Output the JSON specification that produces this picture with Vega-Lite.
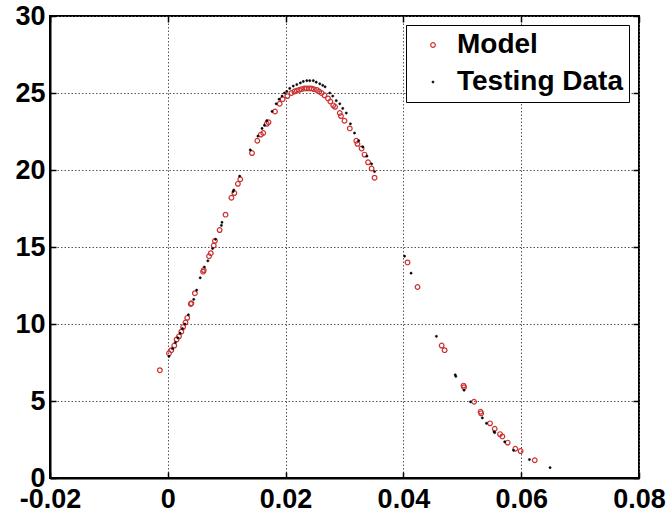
{
  "$schema": "https://vega.github.io/schema/vega-lite/v6.json",
  "width": 589,
  "height": 462,
  "autosize": "none",
  "padding": {"left": 50, "top": 16, "right": 31, "bottom": 39},
  "background": "white",
  "config": {
    "view": {"stroke": "black", "strokeWidth": 2},
    "font": "Liberation Sans",
    "axis": {
      "labelFont": "Liberation Sans",
      "labelFontWeight": "bold",
      "labelFontSize": 27,
      "labelColor": "black",
      "labelFlush": false,
      "labelOverlap": false,
      "labelBound": false,
      "domainColor": "black",
      "domainWidth": 2,
      "tickColor": "black",
      "tickWidth": 1.5,
      "gridColor": "#555555",
      "gridDash": [1.5, 2],
      "gridWidth": 1,
      "gridOpacity": 1,
      "title": null
    }
  },
  "data": {
    "values": [
      {"series": "Model", "x": -0.00135, "y": 7.0},
      {"series": "Model", "x": 0.0002, "y": 8.1},
      {"series": "Model", "x": 0.0006, "y": 8.3},
      {"series": "Model", "x": 0.0011, "y": 8.6},
      {"series": "Model", "x": 0.0015, "y": 9.0},
      {"series": "Model", "x": 0.0019, "y": 9.2},
      {"series": "Model", "x": 0.0023, "y": 9.5},
      {"series": "Model", "x": 0.0026, "y": 9.8},
      {"series": "Model", "x": 0.003, "y": 10.1},
      {"series": "Model", "x": 0.0033, "y": 10.4},
      {"series": "Model", "x": 0.0039, "y": 11.3},
      {"series": "Model", "x": 0.004, "y": 11.35},
      {"series": "Model", "x": 0.0046, "y": 12.0},
      {"series": "Model", "x": 0.006, "y": 13.4},
      {"series": "Model", "x": 0.0061, "y": 13.5},
      {"series": "Model", "x": 0.007, "y": 14.4},
      {"series": "Model", "x": 0.0073, "y": 14.6},
      {"series": "Model", "x": 0.0078, "y": 15.1},
      {"series": "Model", "x": 0.008, "y": 15.4},
      {"series": "Model", "x": 0.0088, "y": 16.1},
      {"series": "Model", "x": 0.0098, "y": 17.1},
      {"series": "Model", "x": 0.0108, "y": 18.2},
      {"series": "Model", "x": 0.0113, "y": 18.5},
      {"series": "Model", "x": 0.0119, "y": 19.1},
      {"series": "Model", "x": 0.0123, "y": 19.4},
      {"series": "Model", "x": 0.0143, "y": 21.1},
      {"series": "Model", "x": 0.0152, "y": 21.9},
      {"series": "Model", "x": 0.0158, "y": 22.3},
      {"series": "Model", "x": 0.0162, "y": 22.4},
      {"series": "Model", "x": 0.0168, "y": 23.0},
      {"series": "Model", "x": 0.0171, "y": 23.1},
      {"series": "Model", "x": 0.0182, "y": 23.8},
      {"series": "Model", "x": 0.019, "y": 24.3},
      {"series": "Model", "x": 0.0195, "y": 24.6},
      {"series": "Model", "x": 0.0203, "y": 24.8},
      {"series": "Model", "x": 0.021, "y": 25.0},
      {"series": "Model", "x": 0.0215, "y": 25.1},
      {"series": "Model", "x": 0.0219, "y": 25.15},
      {"series": "Model", "x": 0.0223, "y": 25.2},
      {"series": "Model", "x": 0.0227, "y": 25.25},
      {"series": "Model", "x": 0.0232, "y": 25.3},
      {"series": "Model", "x": 0.0236, "y": 25.3},
      {"series": "Model", "x": 0.024, "y": 25.3},
      {"series": "Model", "x": 0.0244, "y": 25.3},
      {"series": "Model", "x": 0.0248, "y": 25.25},
      {"series": "Model", "x": 0.0253, "y": 25.2},
      {"series": "Model", "x": 0.0257, "y": 25.1},
      {"series": "Model", "x": 0.0261, "y": 25.0},
      {"series": "Model", "x": 0.0266, "y": 24.85},
      {"series": "Model", "x": 0.0272, "y": 24.65},
      {"series": "Model", "x": 0.0276, "y": 24.45},
      {"series": "Model", "x": 0.0281, "y": 24.2},
      {"series": "Model", "x": 0.0284, "y": 24.1},
      {"series": "Model", "x": 0.0292, "y": 23.7},
      {"series": "Model", "x": 0.0294, "y": 23.5},
      {"series": "Model", "x": 0.03, "y": 23.2},
      {"series": "Model", "x": 0.0309, "y": 22.7},
      {"series": "Model", "x": 0.032, "y": 21.9},
      {"series": "Model", "x": 0.0322, "y": 21.7},
      {"series": "Model", "x": 0.0329, "y": 21.4},
      {"series": "Model", "x": 0.0334, "y": 21.0},
      {"series": "Model", "x": 0.034, "y": 20.5},
      {"series": "Model", "x": 0.0346, "y": 20.1},
      {"series": "Model", "x": 0.0351, "y": 19.5},
      {"series": "Model", "x": 0.0407, "y": 14.0},
      {"series": "Model", "x": 0.0424, "y": 12.4},
      {"series": "Model", "x": 0.0465, "y": 8.6},
      {"series": "Model", "x": 0.047, "y": 8.3},
      {"series": "Model", "x": 0.0502, "y": 6.0},
      {"series": "Model", "x": 0.0503, "y": 5.9},
      {"series": "Model", "x": 0.052, "y": 4.95},
      {"series": "Model", "x": 0.0531, "y": 4.3},
      {"series": "Model", "x": 0.0532, "y": 4.2},
      {"series": "Model", "x": 0.0547, "y": 3.55},
      {"series": "Model", "x": 0.0555, "y": 3.2},
      {"series": "Model", "x": 0.0564, "y": 2.85},
      {"series": "Model", "x": 0.0568, "y": 2.7},
      {"series": "Model", "x": 0.0577, "y": 2.3},
      {"series": "Model", "x": 0.059, "y": 1.9},
      {"series": "Model", "x": 0.0599, "y": 1.75},
      {"series": "Model", "x": 0.0623, "y": 1.15},
      {"series": "Testing Data", "x": 0.0002, "y": 7.9},
      {"series": "Testing Data", "x": 0.0008, "y": 8.4},
      {"series": "Testing Data", "x": 0.0013, "y": 8.8},
      {"series": "Testing Data", "x": 0.0017, "y": 9.1},
      {"series": "Testing Data", "x": 0.0021, "y": 9.4},
      {"series": "Testing Data", "x": 0.0025, "y": 9.7},
      {"series": "Testing Data", "x": 0.0029, "y": 10.0},
      {"series": "Testing Data", "x": 0.0035, "y": 10.6},
      {"series": "Testing Data", "x": 0.0044, "y": 11.6},
      {"series": "Testing Data", "x": 0.0049, "y": 12.2},
      {"series": "Testing Data", "x": 0.0055, "y": 13.0},
      {"series": "Testing Data", "x": 0.0062, "y": 13.7},
      {"series": "Testing Data", "x": 0.0068, "y": 14.1},
      {"series": "Testing Data", "x": 0.0076, "y": 14.9},
      {"series": "Testing Data", "x": 0.0081, "y": 15.5},
      {"series": "Testing Data", "x": 0.0091, "y": 16.4},
      {"series": "Testing Data", "x": 0.0092, "y": 16.6},
      {"series": "Testing Data", "x": 0.0111, "y": 18.6},
      {"series": "Testing Data", "x": 0.0112, "y": 18.7},
      {"series": "Testing Data", "x": 0.0122, "y": 19.6},
      {"series": "Testing Data", "x": 0.014, "y": 21.3},
      {"series": "Testing Data", "x": 0.0153, "y": 22.2},
      {"series": "Testing Data", "x": 0.016, "y": 22.7},
      {"series": "Testing Data", "x": 0.0164, "y": 22.9},
      {"series": "Testing Data", "x": 0.0168, "y": 23.2},
      {"series": "Testing Data", "x": 0.0177, "y": 23.8},
      {"series": "Testing Data", "x": 0.0184, "y": 24.3},
      {"series": "Testing Data", "x": 0.0189, "y": 24.6},
      {"series": "Testing Data", "x": 0.0194, "y": 24.8},
      {"series": "Testing Data", "x": 0.0198, "y": 25.0},
      {"series": "Testing Data", "x": 0.0202, "y": 25.1},
      {"series": "Testing Data", "x": 0.0207, "y": 25.3},
      {"series": "Testing Data", "x": 0.0213, "y": 25.45},
      {"series": "Testing Data", "x": 0.0219, "y": 25.55},
      {"series": "Testing Data", "x": 0.0225, "y": 25.65},
      {"series": "Testing Data", "x": 0.023, "y": 25.75},
      {"series": "Testing Data", "x": 0.0236, "y": 25.8},
      {"series": "Testing Data", "x": 0.0241, "y": 25.8},
      {"series": "Testing Data", "x": 0.0247, "y": 25.8},
      {"series": "Testing Data", "x": 0.0252, "y": 25.7},
      {"series": "Testing Data", "x": 0.0258, "y": 25.6},
      {"series": "Testing Data", "x": 0.0263, "y": 25.5},
      {"series": "Testing Data", "x": 0.0267, "y": 25.4},
      {"series": "Testing Data", "x": 0.0275, "y": 25.0},
      {"series": "Testing Data", "x": 0.028, "y": 24.8},
      {"series": "Testing Data", "x": 0.0286, "y": 24.5},
      {"series": "Testing Data", "x": 0.0292, "y": 24.3},
      {"series": "Testing Data", "x": 0.0297, "y": 24.0},
      {"series": "Testing Data", "x": 0.0303, "y": 23.7},
      {"series": "Testing Data", "x": 0.031, "y": 23.0},
      {"series": "Testing Data", "x": 0.0317, "y": 22.4},
      {"series": "Testing Data", "x": 0.0324, "y": 21.9},
      {"series": "Testing Data", "x": 0.0331, "y": 21.5},
      {"series": "Testing Data", "x": 0.0338, "y": 20.9},
      {"series": "Testing Data", "x": 0.0346, "y": 20.4},
      {"series": "Testing Data", "x": 0.0351, "y": 19.9},
      {"series": "Testing Data", "x": 0.0402, "y": 14.4},
      {"series": "Testing Data", "x": 0.0413, "y": 13.3},
      {"series": "Testing Data", "x": 0.0456, "y": 9.2},
      {"series": "Testing Data", "x": 0.0488, "y": 6.7},
      {"series": "Testing Data", "x": 0.0489, "y": 6.6},
      {"series": "Testing Data", "x": 0.0503, "y": 5.7},
      {"series": "Testing Data", "x": 0.0514, "y": 4.95},
      {"series": "Testing Data", "x": 0.0534, "y": 3.9},
      {"series": "Testing Data", "x": 0.0541, "y": 3.55},
      {"series": "Testing Data", "x": 0.0554, "y": 3.0},
      {"series": "Testing Data", "x": 0.0555, "y": 2.95},
      {"series": "Testing Data", "x": 0.0572, "y": 2.35},
      {"series": "Testing Data", "x": 0.0587, "y": 1.8},
      {"series": "Testing Data", "x": 0.0614, "y": 1.2},
      {"series": "Testing Data", "x": 0.0649, "y": 0.67}
    ]
  },
  "layer": [
    {
      "mark": {"type": "point", "opacity": 0},
      "encoding": {
        "x": {"field": "x", "type": "quantitative",
          "scale": {"domain": [-0.02, 0.08], "nice": false, "zero": false},
          "axis": {"orient": "top", "labels": false, "grid": false, "domain": false, "tickSize": -6, "values": [-0.02, 0, 0.02, 0.04, 0.06, 0.08]}},
        "y": {"field": "y", "type": "quantitative",
          "scale": {"domain": [0, 30], "nice": false},
          "axis": {"orient": "right", "labels": false, "grid": false, "domain": false, "tickSize": -6, "values": [0, 5, 10, 15, 20, 25, 30]}}
      }
    },
    {
      "mark": {"type": "point", "opacity": 1},
      "encoding": {
        "x": {"field": "x", "type": "quantitative",
          "axis": {"orient": "bottom", "grid": true, "tickSize": -6, "labelPadding": 14,
            "values": [-0.02, 0, 0.02, 0.04, 0.06, 0.08],
            "labelExpr": "'' + round(datum.value*100)/100"}},
        "y": {"field": "y", "type": "quantitative",
          "axis": {"orient": "left", "grid": true, "tickSize": -6, "labelPadding": 11,
            "values": [0, 5, 10, 15, 20, 25, 30]}},
        "stroke": {"field": "series", "type": "nominal",
          "scale": {"domain": ["Model", "Testing Data"], "range": ["#cc3333", "black"]},
          "legend": {
            "title": null,
            "orient": "none",
            "legendX": 356,
            "legendY": 9,
            "padding": 6,
            "strokeColor": "black",
            "fillColor": "white",
            "labelFont": "Liberation Sans",
            "labelFontWeight": "bold",
            "labelFontSize": 28,
            "labelColor": "black",
            "labelLimit": 400,
            "labelOffset": 10,
            "symbolOffset": 7,
            "rowPadding": 9
          }},
        "fill": {"field": "series", "type": "nominal",
          "scale": {"domain": ["Model", "Testing Data"], "range": ["rgba(0,0,0,0)", "black"]}},
        "size": {"field": "series", "type": "nominal",
          "scale": {"domain": ["Model", "Testing Data"], "range": [22, 5]}},
        "strokeWidth": {"field": "series", "type": "nominal",
          "scale": {"domain": ["Model", "Testing Data"], "range": [1.2, 0.5]}}
      }
    }
  ],
  "resolve": {"axis": {"x": "independent", "y": "independent"}}
}
